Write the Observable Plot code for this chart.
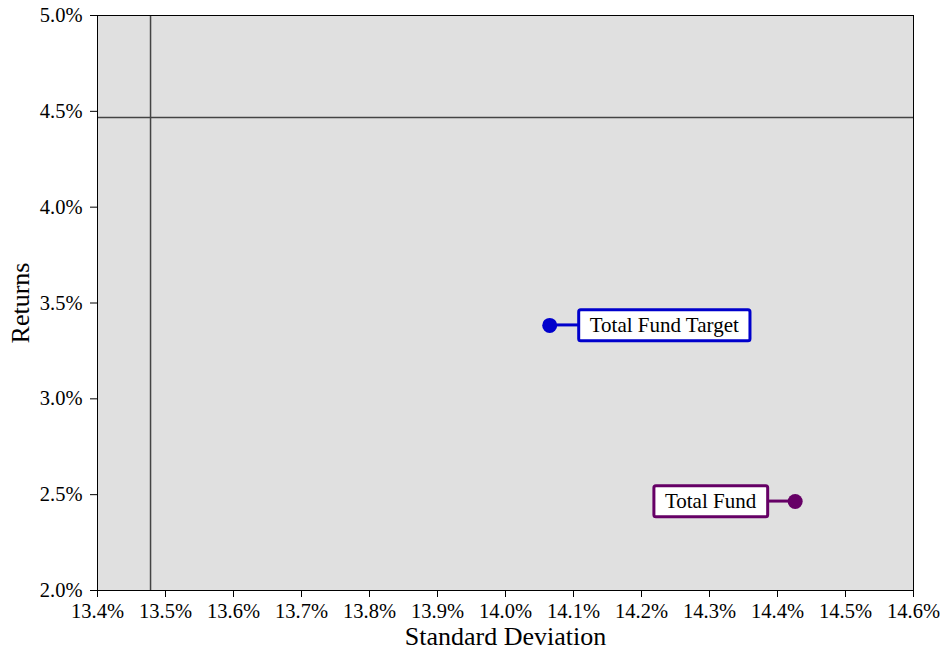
<!DOCTYPE html>
<html>
<head>
<meta charset="utf-8">
<script src="https://cdn.jsdelivr.net/npm/d3@7"></script>
<script src="https://cdn.jsdelivr.net/npm/@observablehq/plot@0.6"></script>
<style>
  body { margin: 0; background: #fff; }
</style>
</head>
<body>
<div id="chart"></div>
<script>
// Risk / return data (annualised, in percent)
const fundNames = ["Total Fund Target", "Total Fund"];
const stdDevs = [14.065, 14.426];
const returnsPct = [3.383, 2.464];
const fundColors = ["#0000cc", "#660066"];
const labelSides = ["right", "left"];

// Reference cross-hair lines
const crossStdDev = 13.478;
const crossReturn = 4.468;

// Axis ticks
const xTicks = [13.4, 13.5, 13.6, 13.7, 13.8, 13.9, 14.0, 14.1, 14.2, 14.3, 14.4, 14.5, 14.6];
const yTicks = [2.0, 2.5, 3.0, 3.5, 4.0, 4.5, 5.0];

const points = fundNames.map((name, i) => ({
  name, sd: stdDevs[i], ret: returnsPct[i], color: fundColors[i], side: labelSides[i]
}));

const pct = d => d.toFixed(1) + "%";
const serif = '"Liberation Serif", "Times New Roman", serif';

const chart = Plot.plot({
  width: 940,
  height: 651,
  marginLeft: 97,
  marginRight: 27,
  marginTop: 15,
  marginBottom: 61,
  style: { fontFamily: serif, color: "#000", background: "#fff", overflow: "visible" },
  x: { domain: [13.4, 14.6] },
  y: { domain: [2, 5] },
  color: { type: "identity" },
  marks: [
    Plot.frame({ fill: "#e0e0e0" }),
    Plot.ruleX([crossStdDev], { stroke: "#444", strokeWidth: 1.5 }),
    Plot.ruleY([crossReturn], { stroke: "#444", strokeWidth: 1.5 }),
    Plot.frame({ stroke: "#000" }),
    Plot.axisX({ ticks: xTicks, tickFormat: pct, tickSize: 7, tickPadding: 6, fontSize: 20.5, label: null }),
    Plot.axisY({ ticks: yTicks, tickFormat: pct, tickSize: 7, tickPadding: 8, fontSize: 20.5, label: null }),
    Plot.text(["Standard Deviation"], { frameAnchor: "bottom", dy: 46, lineAnchor: "middle", fontSize: 26 }),
    Plot.text(["Returns"], { frameAnchor: "left", dx: -77, rotate: -90, textAnchor: "middle", lineAnchor: "middle", fontSize: 26 }),
    Plot.dot(points, { x: "sd", y: "ret", r: 7.5, fill: "color" }),
    Plot.text(points, {
      filter: d => d.side === "right", x: "sd", y: "ret", text: "name",
      dx: 40, textAnchor: "start", lineAnchor: "middle", fontSize: 21, fill: "#000"
    }),
    Plot.text(points, {
      filter: d => d.side === "left", x: "sd", y: "ret", text: "name",
      dx: -39, textAnchor: "end", lineAnchor: "middle", fontSize: 21, fill: "#000"
    })
  ]
});

document.getElementById("chart").append(chart);

// Boxed callouts: a framed box behind each label and a connector to its dot
const sx = chart.scale("x");
const sy = chart.scale("y");
const dotGroup = chart.querySelector('g[aria-label="dot"]');
const padX = 11, padY = 3.5;
const SVGNS = "http://www.w3.org/2000/svg";

const links = document.createElementNS(SVGNS, "g");
dotGroup.parentNode.insertBefore(links, dotGroup);

chart.querySelectorAll("text").forEach(t => {
  const d = points.find(p => p.name === t.textContent);
  if (!d) return;
  const group = t.parentNode;
  const bb = t.getBBox();
  const m = t.getCTM();
  const bx = bb.x * m.a + m.e;
  const by = bb.y * m.d + m.f;
  const rx = bx - padX, ry = by - padY;
  const rw = bb.width + 2 * padX, rh = bb.height + 2 * padY;

  const box = document.createElementNS(SVGNS, "rect");
  group.parentNode.insertBefore(box, group);
  d3.select(box)
    .attr("x", rx).attr("y", ry).attr("width", rw).attr("height", rh)
    .attr("rx", 2)
    .attr("fill", "#fff")
    .attr("stroke", d.color)
    .attr("stroke-width", 3);

  const cx = sx.apply(d.sd), cy = sy.apply(d.ret);
  const edge = d.side === "right" ? rx : rx + rw;
  d3.select(links).append("line")
    .attr("x1", cx).attr("y1", cy).attr("x2", edge).attr("y2", cy)
    .attr("stroke", d.color)
    .attr("stroke-width", 3);
});
</script>
</body>
</html>
